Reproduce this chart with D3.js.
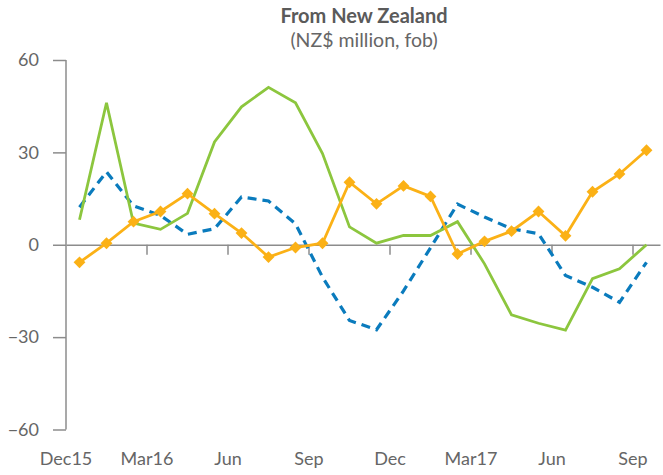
<!DOCTYPE html>
<html>
<head>
<meta charset="utf-8">
<script src="https://cdn.jsdelivr.net/npm/d3@7"></script>
<style>
  html, body { margin: 0; padding: 0; background: #fff; }
  svg { display: block; font-family: Lato, "Open Sans", sans-serif; }
</style>
</head>
<body>
<svg id="chart" width="663" height="475"></svg>
<script>
// Monthly categories, Dec 2015 to Sep 2017
const months = ["Dec15","Jan16","Feb16","Mar16","Apr16","May16","Jun16","Jul16","Aug16","Sep16","Oct16","Nov16",
                "Dec16","Jan17","Feb17","Mar17","Apr17","May17","Jun17","Jul17","Aug17","Sep17"];

// Quarter labels shown under the axis
const tickMonths = ["Dec15","Mar16","Jun16","Sep16","Dec16","Mar17","Jun17","Sep17"];
const tickLabels = ["Dec15","Mar16","Jun","Sep","Dec","Mar17","Jun","Sep"];

// Y axis ticks
const yTicks = [-60, -30, 0, 30, 60];
const yTickLabels = ["\u221260", "\u221230", "0", "30", "60"];

// Series (NZ$ million, fob)
const orangeSeries = [-5.7, 0.5, 7.5, 10.8, 16.6, 10.1, 3.8, -4.0, -0.9, 0.5, 20.3, 13.3,
                      19.1, 15.7, -3.0, 1.1, 4.4, 10.8, 2.9, 17.2, 23.0, 30.7];
const greenSeries  = [8.1, 46.1, 7.0, 5.0, 10.2, 33.4, 44.8, 51.1, 46.1, 29.6, 5.8, 0.5,
                      3.0, 3.0, 7.5, -6.2, -22.8, -25.5, -27.7, -11.0, -7.8, 0.0];
const blueSeries   = [12.2, 23.7, 12.6, 9.5, 3.4, 5.2, 15.5, 14.2, 6.8, -10.5, -24.6, -27.6,
                      -15.0, -1.0, 13.2, 9.0, 5.2, 3.6, -10.0, -13.8, -18.7, -5.7];

const svg = d3.select("#chart");

const x = d3.scaleBand().domain(months).range([66, 660]).padding(0);
const y = d3.scaleLinear().domain([-60, 60]).range([429.5, 60]);
const cx = m => x(m) + x.bandwidth() / 2;

const axisColor = "#8c8c8c";
const textColor = "#666666";

// Title
svg.append("text")
  .attr("x", 364).attr("y", 23)
  .attr("text-anchor", "middle")
  .attr("font-size", 20).attr("font-weight", 700)
  .attr("fill", "#5a5a5a")
  .text("From New Zealand");
svg.append("text")
  .attr("x", 364).attr("y", 47)
  .attr("text-anchor", "middle")
  .attr("font-size", 19.5)
  .attr("fill", textColor)
  .text("(NZ$ million, fob)");

// Y axis
const yAxis = d3.axisLeft(y)
  .tickValues(yTicks)
  .tickFormat((d, i) => yTickLabels[i])
  .tickSize(13)
  .tickPadding(14);
const gy = svg.append("g").attr("transform", "translate(66,0)").call(yAxis);
gy.select(".domain").attr("stroke", axisColor).attr("stroke-width", 1.5)
  .attr("d", `M0,${y(60)}V${y(-60)}`);
gy.selectAll(".tick line").attr("stroke", axisColor).attr("stroke-width", 1.5);
gy.selectAll(".tick text").attr("fill", textColor).attr("font-size", 18)
  .attr("font-family", "Lato, 'Open Sans', sans-serif");

// Zero line with quarter ticks
const xAxis = d3.axisBottom(x)
  .tickValues(tickMonths.slice(1))
  .tickFormat("")
  .tickSizeInner(10).tickSizeOuter(0);
const gx = svg.append("g").attr("transform", `translate(0,${y(0)})`).call(xAxis);
gx.select(".domain").attr("stroke", axisColor).attr("stroke-width", 1.5);
gx.selectAll(".tick").attr("transform", d => `translate(${x(d)},0)`);
gx.selectAll(".tick line").attr("stroke", axisColor).attr("stroke-width", 1.5);

// Quarter labels at the bottom
svg.append("g").selectAll("text")
  .data(tickMonths)
  .join("text")
  .attr("x", d => x(d))
  .attr("y", 465)
  .attr("text-anchor", "middle")
  .attr("font-size", 18)
  .attr("fill", textColor)
  .text((d, i) => tickLabels[i]);

const line = d3.line()
  .x((d, i) => cx(months[i]))
  .y(d => y(d));

// Blue dashed series
svg.append("path")
  .datum(blueSeries)
  .attr("d", line)
  .attr("fill", "none")
  .attr("stroke", "#0a7bbd")
  .attr("stroke-width", 3.2)
  .attr("stroke-dasharray", "9,6");

// Green series
svg.append("path")
  .datum(greenSeries)
  .attr("d", line)
  .attr("fill", "none")
  .attr("stroke", "#8cc63e")
  .attr("stroke-width", 2.8)
  .attr("stroke-linejoin", "miter");

// Orange series with diamond markers
svg.append("path")
  .datum(orangeSeries)
  .attr("d", line)
  .attr("fill", "none")
  .attr("stroke", "#fbb116")
  .attr("stroke-width", 2.8);

const diamond = d3.symbol().type(d3.symbolSquare).size(70);
svg.append("g").selectAll("path")
  .data(orangeSeries)
  .join("path")
  .attr("d", diamond)
  .attr("transform", (d, i) => `translate(${cx(months[i])},${y(d)}) rotate(45)`)
  .attr("fill", "#fbb116");
</script>
</body>
</html>
